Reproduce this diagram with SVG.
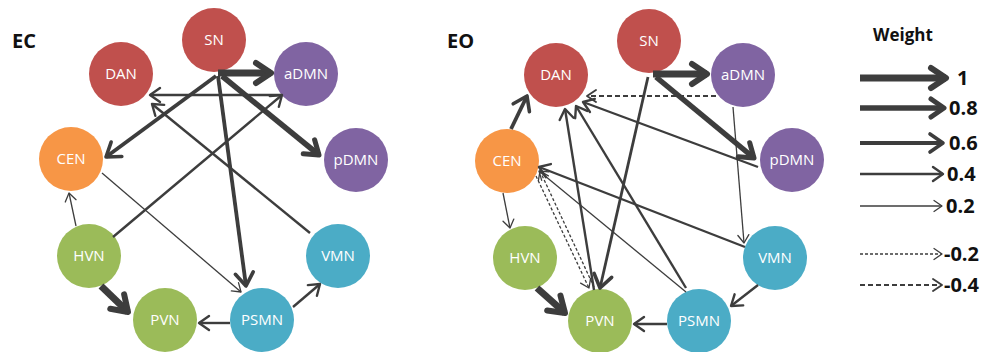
<svg xmlns="http://www.w3.org/2000/svg" width="987" height="352" viewBox="0 0 987 352">
<style>
.n text{font-family:"Open Sans","Liberation Sans",sans-serif;font-size:15px;fill:#fff;text-anchor:middle}
.red{fill:#c0504d}.pur{fill:#8064a2}.ora{fill:#f79646}.grn{fill:#9bbb59}.tea{fill:#4bacc6}
.c line{stroke:#3d3d3d;fill:none}
.w1{stroke-width:7;marker-end:url(#a1)}
.w08{stroke-width:5.5;marker-end:url(#a08)}
.w06{stroke-width:3.8;marker-end:url(#a06)}
.w05{stroke-width:2.8;marker-end:url(#a06)}
.w04{stroke-width:2.4;marker-end:url(#a04)}
.w02{stroke-width:1.3;marker-end:url(#a02)}
.d02{stroke-width:1.3;stroke-dasharray:3 2;marker-end:url(#a02)}
.d04{stroke-width:2;stroke-dasharray:5 3;marker-end:url(#ad4)}
.mk{fill:none;stroke:#3d3d3d;stroke-linejoin:round;stroke-linecap:round}
.ttl{font-family:"Open Sans","Liberation Sans",sans-serif;font-weight:bold;fill:#111}
</style>
<defs>
<marker id="a1" markerUnits="userSpaceOnUse" viewBox="-30 -15 40 30" markerWidth="40" markerHeight="30" refX="0" refY="0" orient="auto" overflow="visible"><path class="mk" d="M-15,-10 L0,0 L-15,10" stroke-width="6"/></marker>
<marker id="a08" markerUnits="userSpaceOnUse" viewBox="-30 -15 40 30" markerWidth="40" markerHeight="30" refX="0" refY="0" orient="auto" overflow="visible"><path class="mk" d="M-13,-9 L0,0 L-13,9" stroke-width="5"/></marker>
<marker id="a06" markerUnits="userSpaceOnUse" viewBox="-30 -15 40 30" markerWidth="40" markerHeight="30" refX="0" refY="0" orient="auto" overflow="visible"><path class="mk" d="M-13,-9 L0,0 L-13,9" stroke-width="3.6"/></marker>
<marker id="a04" markerUnits="userSpaceOnUse" viewBox="-30 -15 40 30" markerWidth="40" markerHeight="30" refX="0" refY="0" orient="auto" overflow="visible"><path class="mk" d="M-10,-7 L0,0 L-10,7" stroke-width="2.4"/></marker>
<marker id="a02" markerUnits="userSpaceOnUse" viewBox="-30 -15 40 30" markerWidth="40" markerHeight="30" refX="0" refY="0" orient="auto" overflow="visible"><path class="mk" d="M-8,-5.5 L0,0 L-8,5.5" stroke-width="1.3"/></marker>
<marker id="ad4" markerUnits="userSpaceOnUse" viewBox="-30 -15 40 30" markerWidth="40" markerHeight="30" refX="0" refY="0" orient="auto" overflow="visible"><path class="mk" d="M-9,-6 L0,0 L-9,6" stroke-width="1.9"/></marker>
</defs>
<rect width="987" height="352" fill="#fff"/>

<text class="ttl" x="12" y="48" font-size="20">EC</text>
<text class="ttl" x="447" y="48" font-size="20">EO</text>

<g id="ec-SN" class="n"><circle class="red" cx="214" cy="40" r="32"/><text x="214" y="45">SN</text></g>
<g id="ec-DAN" class="n"><circle class="red" cx="121" cy="74" r="32"/><text x="121" y="79">DAN</text></g>
<g id="ec-aDMN" class="n"><circle class="pur" cx="306" cy="74" r="32"/><text x="306" y="79">aDMN</text></g>
<g id="ec-CEN" class="n"><circle class="ora" cx="71" cy="159" r="32"/><text x="71" y="164">CEN</text></g>
<g id="ec-pDMN" class="n"><circle class="pur" cx="356" cy="160" r="32"/><text x="356" y="165">pDMN</text></g>
<g id="ec-HVN" class="n"><circle class="grn" cx="89" cy="256" r="32"/><text x="89" y="261">HVN</text></g>
<g id="ec-VMN" class="n"><circle class="tea" cx="338" cy="256" r="32"/><text x="338" y="261">VMN</text></g>
<g id="ec-PVN" class="n"><circle class="grn" cx="165" cy="320" r="32"/><text x="165" y="325">PVN</text></g>
<g id="ec-PSMN" class="n"><circle class="tea" cx="262" cy="320" r="32"/><text x="262" y="325">PSMN</text></g>

<g id="eo-SN" class="n"><circle class="red" cx="649" cy="41" r="32"/><text x="649" y="46">SN</text></g>
<g id="eo-DAN" class="n"><circle class="red" cx="556" cy="75" r="32"/><text x="556" y="80">DAN</text></g>
<g id="eo-aDMN" class="n"><circle class="pur" cx="743" cy="75" r="32"/><text x="743" y="80">aDMN</text></g>
<g id="eo-CEN" class="n"><circle class="ora" cx="507" cy="161" r="32"/><text x="507" y="166">CEN</text></g>
<g id="eo-pDMN" class="n"><circle class="pur" cx="792" cy="160" r="32"/><text x="792" y="165">pDMN</text></g>
<g id="eo-HVN" class="n"><circle class="grn" cx="525" cy="258" r="32"/><text x="525" y="263">HVN</text></g>
<g id="eo-VMN" class="n"><circle class="tea" cx="775" cy="258" r="32"/><text x="775" y="263">VMN</text></g>
<g id="eo-PVN" class="n"><circle class="grn" cx="600" cy="321" r="32"/><text x="600" y="326">PVN</text></g>
<g id="eo-PSMN" class="n"><circle class="tea" cx="699" cy="321" r="32"/><text x="699" y="326">PSMN</text></g>

<g id="connectors" class="c">
<line class="w1" x1="218" y1="73" x2="271" y2="73"/>
<line class="w08" x1="222" y1="76" x2="319" y2="155"/>
<line class="w06" x1="216" y1="76" x2="106" y2="157"/>
<line class="w06" x1="218" y1="76" x2="246" y2="286"/>
<line class="w04" x1="281" y1="95" x2="150" y2="95"/>
<line class="w04" x1="310" y1="233" x2="152" y2="104"/>
<line class="w04" x1="113" y1="237" x2="282" y2="95"/>
<line class="w02" x1="102" y1="173" x2="241" y2="292"/>
<line class="w02" x1="76" y1="226" x2="69" y2="193"/>
<line class="w1" x1="101" y1="286" x2="128" y2="312"/>
<line class="w04" x1="230" y1="323" x2="199" y2="323"/>
<line class="w04" x1="293" y1="307" x2="320" y2="284"/>

<line class="w1" x1="653" y1="74" x2="707" y2="74"/>
<line class="w08" x1="656" y1="77" x2="754" y2="158"/>
<line class="w05" x1="648" y1="77" x2="600" y2="288"/>
<line class="d04" x1="716" y1="96" x2="587" y2="96"/>
<line class="w02" x1="733" y1="107" x2="744" y2="243"/>
<line class="w04" x1="758" y1="167" x2="583" y2="102"/>
<line class="w06" x1="511" y1="129" x2="527" y2="96"/>
<line class="w02" x1="503" y1="193" x2="510" y2="228"/>
<line class="d02" x1="536" y1="176" x2="589" y2="288"/>
<line class="d02" x1="594" y1="287" x2="540" y2="171"/>
<line class="w04" x1="594" y1="290" x2="565" y2="109"/>
<line class="w04" x1="686" y1="288" x2="576" y2="106"/>
<line class="w04" x1="745" y1="247" x2="539" y2="167"/>
<line class="w02" x1="686" y1="292" x2="539" y2="171"/>
<line class="w04" x1="758" y1="285" x2="731" y2="306"/>
<line class="w04" x1="667" y1="324" x2="634" y2="324"/>
<line class="w1" x1="537" y1="288" x2="565" y2="313"/>
</g>

<g id="legend" class="c">
<text class="ttl" x="873" y="41" font-size="17">Weight</text>
<line class="w1" x1="860" y1="78" x2="946" y2="78"/>
<text class="ttl" x="957" y="85" font-size="20">1</text>
<line class="w08" x1="860" y1="108" x2="944" y2="108"/>
<text class="ttl" x="949" y="115" font-size="20">0.8</text>
<line class="w06" x1="860" y1="143" x2="943" y2="143"/>
<text class="ttl" x="949" y="150" font-size="20">0.6</text>
<line class="w04" x1="860" y1="174" x2="943" y2="174"/>
<text class="ttl" x="947" y="181" font-size="20">0.4</text>
<line class="w02" x1="860" y1="206" x2="942" y2="206"/>
<text class="ttl" x="946" y="213" font-size="20">0.2</text>
<line class="d02" x1="860" y1="254" x2="942" y2="254"/>
<text class="ttl" x="944" y="261" font-size="20">-0.2</text>
<line class="d04" x1="860" y1="285" x2="942" y2="285"/>
<text class="ttl" x="944" y="292" font-size="20">-0.4</text>
</g>
</svg>
